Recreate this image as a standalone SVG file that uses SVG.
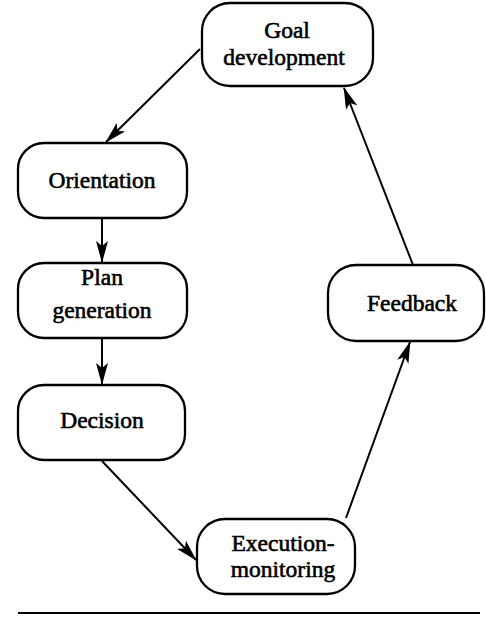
<svg xmlns="http://www.w3.org/2000/svg" width="486" height="617" viewBox="0 0 486 617">
  <style>
    .box { fill: #ffffff; stroke: #000000; stroke-width: 2.3; }
    .lbl { font-family: "Liberation Serif", "Times New Roman", serif; font-size: 23.5px; fill: #000000; stroke: #000000; stroke-width: 0.6; text-anchor: middle; }
    .edge { stroke: #000000; stroke-width: 2; fill: none; marker-end: url(#arrow); }
  </style>
  <defs>
    <marker id="arrow" viewBox="0 0 22 12" refX="21" refY="6" markerWidth="22" markerHeight="12" markerUnits="userSpaceOnUse" orient="auto">
      <path d="M0,0 L22,6 L0,12 L5,6 Z" fill="#000000"/>
    </marker>
  </defs>
  <rect width="486" height="617" fill="#ffffff"/>

  <g id="connectors">
    <line class="edge" x1="200" y1="49" x2="106" y2="142"/>
    <line class="edge" x1="102" y1="219" x2="102" y2="262"/>
    <line class="edge" x1="102" y1="339" x2="102" y2="384"/>
    <line class="edge" x1="102" y1="461" x2="196" y2="560"/>
    <line class="edge" x1="346" y1="518" x2="410" y2="342"/>
    <line class="edge" x1="413" y1="265" x2="344" y2="88"/>
  </g>

  <g id="goal-development">
    <rect class="box" x="202" y="3" width="171" height="83" rx="28"/>
    <text class="lbl" x="287" y="38">Goal</text>
    <text class="lbl" x="284" y="65">development</text>
  </g>
  <g id="orientation">
    <rect class="box" x="18" y="143" width="169" height="75" rx="26"/>
    <text class="lbl" x="102" y="188">Orientation</text>
  </g>
  <g id="plan-generation">
    <rect class="box" x="18" y="263" width="169" height="75" rx="26"/>
    <text class="lbl" x="102" y="285">Plan</text>
    <text class="lbl" x="102" y="318">generation</text>
  </g>
  <g id="decision">
    <rect class="box" x="18" y="385" width="167" height="75" rx="26"/>
    <text class="lbl" x="102" y="428">Decision</text>
  </g>
  <g id="execution-monitoring">
    <rect class="box" x="197" y="519" width="158" height="75" rx="28"/>
    <text class="lbl" x="283" y="551">Execution-</text>
    <text class="lbl" x="283" y="577">monitoring</text>
  </g>
  <g id="feedback">
    <rect class="box" x="328" y="265" width="156" height="76" rx="28"/>
    <text class="lbl" x="412" y="311">Feedback</text>
  </g>

  <line x1="18" y1="613" x2="480" y2="613" stroke="#000000" stroke-width="2"/>
</svg>
